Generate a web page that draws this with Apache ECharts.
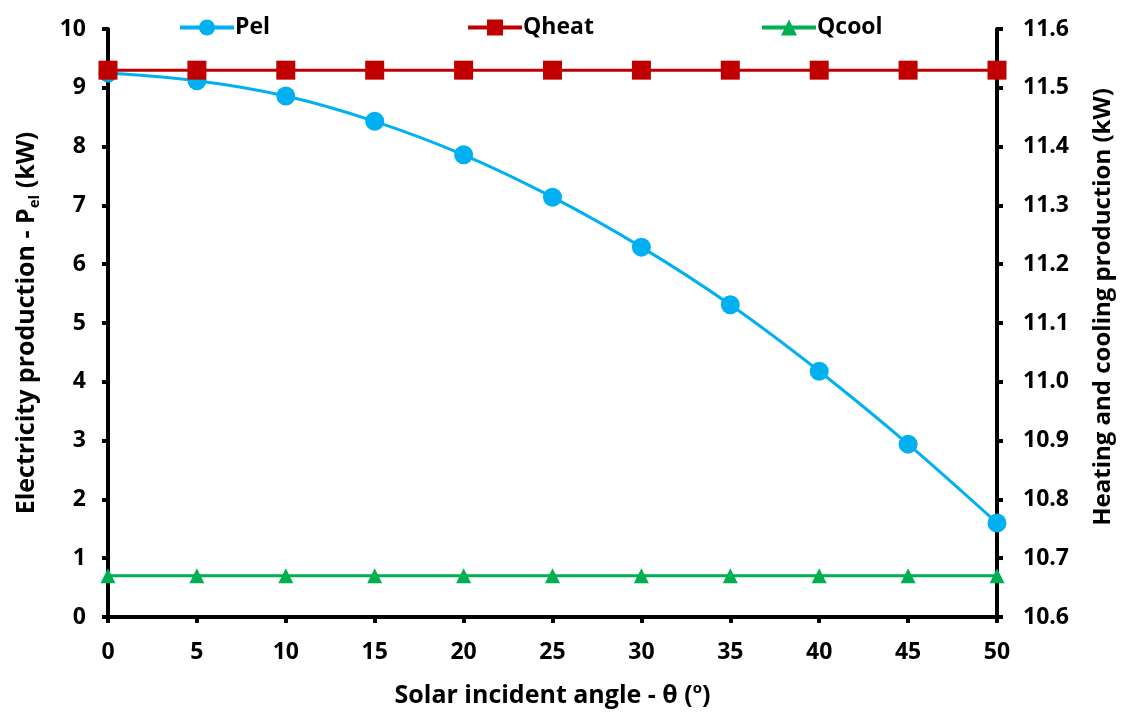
<!DOCTYPE html>
<html>
<head>
<meta charset="utf-8">
<script src="https://cdn.jsdelivr.net/npm/echarts@6/dist/echarts.min.js"></script>
<style>
  html, body { margin: 0; padding: 0; background: #fff; }
  #chart { width: 1129px; height: 720px; }
</style>
</head>
<body>
<div id="chart"></div>
<script>
// Solar incident angle (degrees)
const angles = [0, 5, 10, 15, 20, 25, 30, 35, 40, 45, 50];
// Electricity production Pel (kW), left axis
const pel = [9.25, 9.12, 8.86, 8.43, 7.86, 7.14, 6.29, 5.31, 4.18, 2.94, 1.60];
// Heating and cooling production (kW), right axis
const qheat = [11.53, 11.53, 11.53, 11.53, 11.53, 11.53, 11.53, 11.53, 11.53, 11.53, 11.53];
const qcool = [10.67, 10.67, 10.67, 10.67, 10.67, 10.67, 10.67, 10.67, 10.67, 10.67, 10.67];

const FONT = '"Open Sans", "Noto Sans", sans-serif';
const pair = (xs, ys) => xs.map((x, i) => [x, ys[i]]);

const axisCommon = {
  axisLine: { show: true, lineStyle: { color: '#000', width: 4 } },
  axisTick: { show: true, inside: false, length: 6, lineStyle: { color: '#000', width: 4 } },
  splitLine: { show: false },
  axisLabel: { color: '#000', fontFamily: FONT, fontWeight: 'bold', fontSize: 23 }
};

const legendBase = {
  top: 11,
  itemWidth: 54,
  itemHeight: 20,
  itemGap: 0,
  lineStyle: { width: 4 },
  textStyle: { color: '#000', fontFamily: FONT, fontWeight: 'bold', fontSize: 23, padding: [0, 0, 0, -4] }
};

const chart = echarts.init(document.getElementById('chart'), null, { renderer: 'canvas' });
chart.setOption({
  animation: false,
  backgroundColor: '#fff',
  grid: { left: 108, right: 132, top: 29, bottom: 103, containLabel: false },
  legend: [
    Object.assign({}, legendBase, { left: 173, data: ['Pel'] }),
    Object.assign({}, legendBase, { left: 461, data: ['Qheat'] }),
    Object.assign({}, legendBase, { left: 755, data: ['Qcool'] })
  ],
  xAxis: Object.assign({}, axisCommon, {
    type: 'value', min: 0, max: 50, interval: 5,
    axisLabel: Object.assign({}, axisCommon.axisLabel, { margin: 24 }),
    name: '{t|Solar incident angle - θ (}{s|o}{t|)}',
    nameLocation: 'middle', nameGap: 64,
    nameTextStyle: {
      rich: {
        t: { fontFamily: FONT, fontWeight: 'bold', fontSize: 25, color: '#000', lineHeight: 30 },
        s: { fontFamily: FONT, fontWeight: 'bold', fontSize: 15, color: '#000', verticalAlign: 'top', lineHeight: 30, padding: [0, 0, 12, 0] }
      }
    }
  }),
  yAxis: [
    Object.assign({}, axisCommon, {
      type: 'value', min: 0, max: 10, interval: 1, position: 'left',
      axisLabel: Object.assign({}, axisCommon.axisLabel, { margin: 22 }),
      name: '{t|Electricity production - P}{s|el}{t| (kW)}',
      nameLocation: 'middle', nameGap: 66, nameRotate: 90,
      nameTextStyle: {
        rich: {
          t: { fontFamily: FONT, fontWeight: 'bold', fontSize: 25, color: '#000', lineHeight: 30 },
          s: { fontFamily: FONT, fontWeight: 'bold', fontSize: 15, color: '#000', verticalAlign: 'bottom', lineHeight: 30, padding: [10, 0, 0, 0] }
        }
      }
    }),
    Object.assign({}, axisCommon, {
      type: 'value', min: 10.6, max: 11.6, interval: 0.1, position: 'right',
      axisLabel: Object.assign({}, axisCommon.axisLabel, {
        margin: 26,
        formatter: v => v.toFixed(1)
      }),
      name: 'Heating and cooling production (kW)',
      nameLocation: 'middle', nameGap: 94, nameRotate: 90,
      nameTextStyle: { fontFamily: FONT, fontWeight: 'bold', fontSize: 24, color: '#000', padding: [0, 0, 0, 32] }
    })
  ],
  series: [
    {
      name: 'Pel', type: 'line', yAxisIndex: 0,
      data: pair(angles, pel),
      smooth: 0.3,
      symbol: 'circle', symbolSize: 19,
      lineStyle: { color: '#00B0F0', width: 3 },
      itemStyle: { color: '#00B0F0' }
    },
    {
      name: 'Qheat', type: 'line', yAxisIndex: 1,
      data: pair(angles, qheat),
      symbol: 'rect', symbolSize: 19,
      lineStyle: { color: '#C00000', width: 3 },
      itemStyle: { color: '#C00000' }
    },
    {
      name: 'Qcool', type: 'line', yAxisIndex: 1,
      data: pair(angles, qcool),
      symbol: 'triangle', symbolSize: 15,
      lineStyle: { color: '#00B050', width: 3 },
      itemStyle: { color: '#00B050' }
    }
  ]
});
</script>
</body>
</html>
